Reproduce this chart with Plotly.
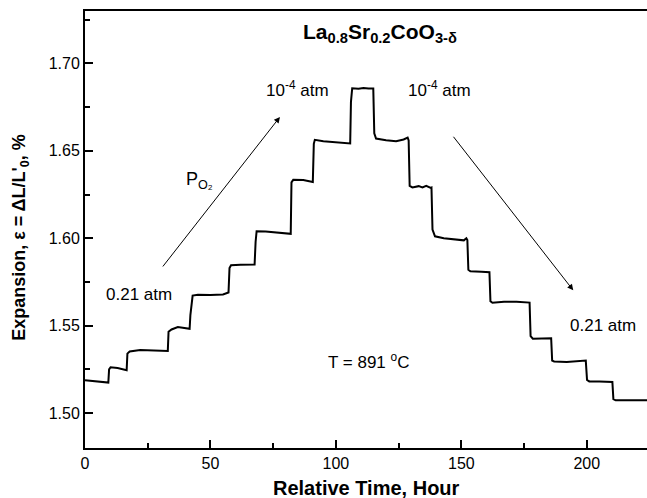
import plotly.graph_objects as go

# Data (time in hours, expansion in %)
time_h = [0, 5, 9.3, 9.6, 10.2, 13, 16.6, 16.9, 17.8, 22, 28, 33.0, 33.3, 34.5, 37, 40, 41.7,
          42.0, 42.9, 45, 50, 55, 56.5, 57.2, 57.6, 58.2, 62, 67.6, 68.0, 68.4, 72, 78, 82.0,
          82.3, 83, 87, 90.8, 91.2, 91.6, 95, 100, 105.7, 106.0, 106.5, 109, 111, 113, 114.9,
          115.3, 116, 120, 124, 127, 128.6, 129.0, 129.4, 130.5, 133, 134.5, 136, 137.8, 138.1,
          138.5, 139.5, 143, 148, 151, 152.0, 152.4, 152.8, 153.6, 158, 161.2, 161.6, 162.4,
          167, 172, 177.2, 177.6, 178.5, 183, 185.8, 186.2, 187, 192, 197, 199.6, 200.1, 201,
          205, 210.2, 210.6, 211.5, 217, 224]
expansion = [1.5187, 1.5180, 1.5174, 1.5250, 1.5262, 1.5258, 1.5245, 1.5340, 1.5352, 1.5360,
             1.5357, 1.5355, 1.5465, 1.5478, 1.5492, 1.5485, 1.5482, 1.5560, 1.5672, 1.5677,
             1.5675, 1.5678, 1.5688, 1.5690, 1.5830, 1.5845, 1.5848, 1.5850, 1.5980, 1.6040,
             1.6038, 1.6030, 1.6025, 1.6320, 1.6334, 1.6333, 1.6322, 1.6540, 1.6563, 1.6555,
             1.6548, 1.6542, 1.6780, 1.6858, 1.6855, 1.6860, 1.6856, 1.6856, 1.6600, 1.6570,
             1.6560, 1.6555, 1.6565, 1.6576, 1.6560, 1.6300, 1.6291, 1.6298, 1.6291, 1.6300,
             1.6288, 1.6290, 1.6050, 1.6011, 1.6000, 1.5990, 1.5988, 1.6000, 1.5990, 1.5820,
             1.5811, 1.5808, 1.5806, 1.5640, 1.5631, 1.5636, 1.5637, 1.5632, 1.5440, 1.5425,
             1.5428, 1.5428, 1.5300, 1.5295, 1.5292, 1.5295, 1.5300, 1.5190, 1.5181, 1.5181,
             1.5178, 1.5080, 1.5073, 1.5073, 1.5073]

x_ticks = [0, 50, 100, 150, 200]
y_ticks = [1.50, 1.55, 1.60, 1.65, 1.70]

FONT = "Liberation Sans, Arial, sans-serif"

fig = go.Figure()
fig.add_trace(go.Scatter(x=time_h, y=expansion, mode="lines",
                         line=dict(color="black", width=2), showlegend=False,
                         hoverinfo="skip"))

ann_font = dict(family=FONT, size=17, color="black")
annotations = [
    dict(x=117.6, y=1.7175, text="<b>La<sub>0.8</sub>Sr<sub>0.2</sub>CoO<sub>3-δ</sub></b>",
         font=dict(family=FONT, size=21, color="black")),
    dict(x=84.7, y=1.6852, text="10<sup>-4</sup> atm", font=ann_font),
    dict(x=141.2, y=1.6856, text="10<sup>-4</sup> atm", font=ann_font),
    dict(x=45.8, y=1.6330, text="P<sub>O₂</sub>", font=dict(family=FONT, size=18, color="black")),
    dict(x=21.4, y=1.5676, text="0.21 atm", font=ann_font),
    dict(x=206.3, y=1.5502, text="0.21 atm", font=ann_font),
    dict(x=113.1, y=1.5297, text="T = 891 <sup>o</sup>C", font=ann_font),
]
for a in annotations:
    a.update(xref="x", yref="y", showarrow=False, xanchor="center", yanchor="middle")
    fig.add_annotation(**a)

# arrows
for (tx, ty, hx, hy) in [(30.57, 1.5830, 77.7, 1.6694), (146.4, 1.6589, 194.6, 1.5702)]:
    fig.add_annotation(x=hx, y=hy, ax=tx, ay=ty, xref="x", yref="y", axref="x", ayref="y",
                       text="", showarrow=True, arrowhead=2, arrowsize=1.2, arrowwidth=1,
                       arrowcolor="black", standoff=0)

# axis titles
fig.add_annotation(xref="paper", yref="paper", x=0.5, y=-0.092, xanchor="center", yanchor="middle",
                   text="<b>Relative Time, Hour</b>", showarrow=False,
                   font=dict(family=FONT, size=20, color="black"))
fig.add_annotation(xref="paper", yref="paper", x=0, xshift=-64, y=0.481, xanchor="center",
                   yanchor="middle", textangle=-90,
                   text="<b>Expansion, ε = ΔL/L'<sub>0</sub>, %</b>", showarrow=False,
                   font=dict(family=FONT, size=18, color="black"))

fig.update_layout(
    width=647, height=498,
    margin=dict(l=85, r=0, t=11, b=50),
    paper_bgcolor="white", plot_bgcolor="white",
    font=dict(family=FONT, size=16, color="black"),
)
fig.update_xaxes(range=[0, 224], tickvals=x_ticks, ticktext=[str(v) for v in x_ticks],
                 showline=True, linecolor="black", linewidth=2, mirror=True,
                 ticks="inside", ticklen=8, tickwidth=1.5, tickcolor="black",
                 minor=dict(ticks="inside", ticklen=5, tickwidth=1.5, tickcolor="black", dtick=25, tick0=0),
                 showgrid=False, zeroline=False, tickfont=dict(family=FONT, size=16, color="black"))
fig.update_yaxes(range=[1.48, 1.73], tickvals=y_ticks, ticktext=[f"{v:.2f}" for v in y_ticks],
                 showline=True, linecolor="black", linewidth=2, mirror=False,
                 ticks="inside", ticklen=8, tickwidth=1.5, tickcolor="black",
                 minor=dict(ticks="inside", ticklen=5, tickwidth=1.5, tickcolor="black", dtick=0.025, tick0=1.475),
                 showgrid=False, zeroline=False, tickfont=dict(family=FONT, size=16, color="black"))

fig.write_html("out.html")
